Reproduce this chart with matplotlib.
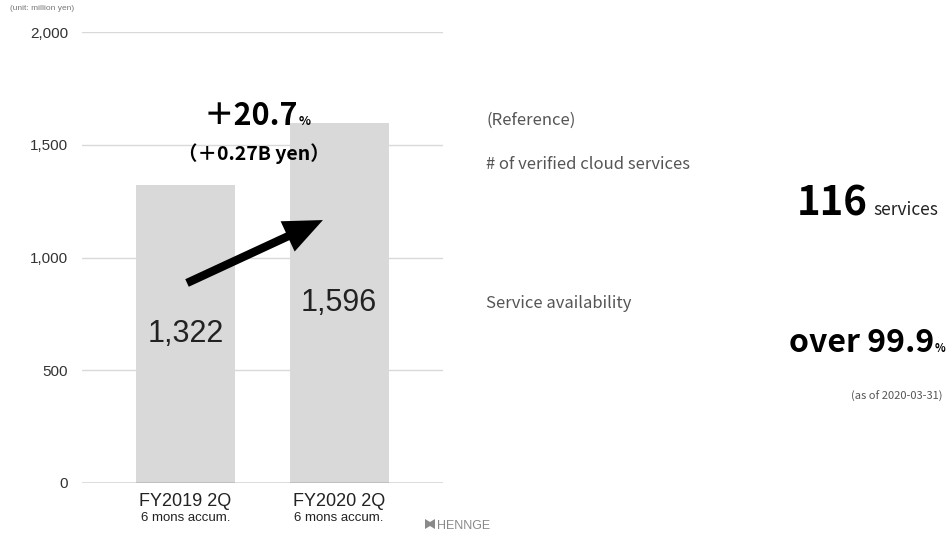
import matplotlib.pyplot as plt
from matplotlib.patches import Polygon

# Revenue, 6-month accumulated (million yen)
periods = ["FY2019 2Q", "FY2020 2Q"]
period_notes = ["6 mons accum.", "6 mons accum."]
revenue = [1322, 1596]
y_ticks = [0, 500, 1000, 1500, 2000]

# Side figures
verified_services = 116
availability = "99.9"
as_of_date = "2020-03-31"

growth_pct = (revenue[1] / revenue[0] - 1) * 100
growth_yen_b = (revenue[1] - revenue[0]) / 1000

JP = ["Noto Sans CJK JP", "DejaVu Sans"]
LATIN = ["Liberation Sans", "DejaVu Sans"]

W, H = 946, 534
fig = plt.figure(figsize=(W / 100, H / 100), dpi=100)
fig.patch.set_facecolor("white")


def pos(x, y):
    # pixel position -> figure fraction
    return x / W, 1 - y / H


ax = fig.add_axes([82 / W, 1 - 483 / H, (443 - 82) / W, (483 - 32) / H])
x = [0, 1]
ax.bar(x, revenue, width=0.645, color="#d9d9d9", zorder=2)
ax.set_xlim(-0.674, 1.677)
ax.set_ylim(0, 2000)

# grid lines
for t in y_ticks[1:]:
    ax.axhline(t, color="#d9d9d9", lw=1, zorder=1)
ax.axhline(0, color="#555555", lw=1, zorder=3)

for s in ax.spines.values():
    s.set_visible(False)
ax.set_xticks([])
ax.set_yticks(y_ticks)
ax.set_yticklabels([f"{t:,}" for t in y_ticks], fontsize=11, color="#333333",
                   family=LATIN)
ax.tick_params(axis="y", length=0, pad=10)

# values in the middle of the bars
for xi, v in zip(x, revenue):
    ax.text(xi, v / 2, f"{v:,}", ha="center", va="center", fontsize=22,
            color="#222222", family=LATIN, zorder=4)

# category labels under the axis
for xi, p, n in zip(x, periods, period_notes):
    ax.annotate(p, xy=(xi, 0), xytext=(0, -7), textcoords="offset points",
                ha="center", va="top", fontsize=13, color="#222222", family=LATIN)
    ax.annotate(n, xy=(xi, 0), xytext=(0, -21), textcoords="offset points",
                ha="center", va="top", fontsize=9.5, color="#222222", family=LATIN)

# growth arrow
ax.annotate("", xy=(0.895, 1166), xytext=(0.01, 887),
            arrowprops=dict(arrowstyle="simple,head_length=2.8,head_width=2.4,tail_width=0.6",
                            mutation_scale=10, color="black", lw=0,
                            shrinkA=0, shrinkB=0), zorder=5)

fig.text(*pos(298, 125), f"＋{growth_pct:.1f}", ha="right", va="baseline",
         fontsize=22, fontweight="bold", family=JP, color="black")
fig.text(*pos(299, 125), "%", ha="left", va="baseline",
         fontsize=9, fontweight="bold", family=JP, color="black")
fig.text(*pos(254, 160), f"（＋{growth_yen_b:.2f}B yen）", ha="center", va="baseline",
         fontsize=14, fontweight="bold", family=JP, color="black")

fig.text(*pos(10, 8), "(unit: million yen)", ha="left", va="center",
         fontsize=6, color="#777777", family=LATIN)

# right panel
fig.text(*pos(486, 125), "(Reference)", ha="left", va="baseline",
         fontsize=12, color="#555555", family=JP)
fig.text(*pos(486, 169), "# of verified cloud services", ha="left", va="baseline",
         fontsize=12, color="#555555", family=JP)
fig.text(*pos(868, 215), f"{verified_services}", ha="right", va="baseline",
         fontsize=29, fontweight="bold", family=JP, color="black")
fig.text(*pos(873, 215), "services", ha="left", va="baseline",
         fontsize=12.5, family=JP, color="#222222")

fig.text(*pos(486, 308), "Service availability", ha="left", va="baseline",
         fontsize=12, color="#555555", family=JP)
fig.text(*pos(934, 352), f"over {availability}", ha="right", va="baseline",
         fontsize=23, fontweight="bold", family=JP, color="black")
fig.text(*pos(935, 352), "%", ha="left", va="baseline",
         fontsize=8, fontweight="bold", family=JP, color="black")
fig.text(*pos(942, 400), f"(as of {as_of_date})", ha="right", va="baseline",
         fontsize=8, color="#555555", family=JP)

# footer logo: small bow-tie mark and the wordmark
lx, ly = 425, 519
mark = [(0, 0), (5, 3), (10, 0), (10, 10), (5, 7), (0, 10)]
fig.patches.append(Polygon([pos(lx + a, ly + b) for a, b in mark], closed=True,
                           transform=fig.transFigure, color="#8a8a8a", lw=0))
fig.text(*pos(437, 529), "HENNGE", ha="left", va="baseline",
         fontsize=9, color="#8a8a8a", family=LATIN)

fig.savefig("out.png", dpi=100, facecolor="white")
